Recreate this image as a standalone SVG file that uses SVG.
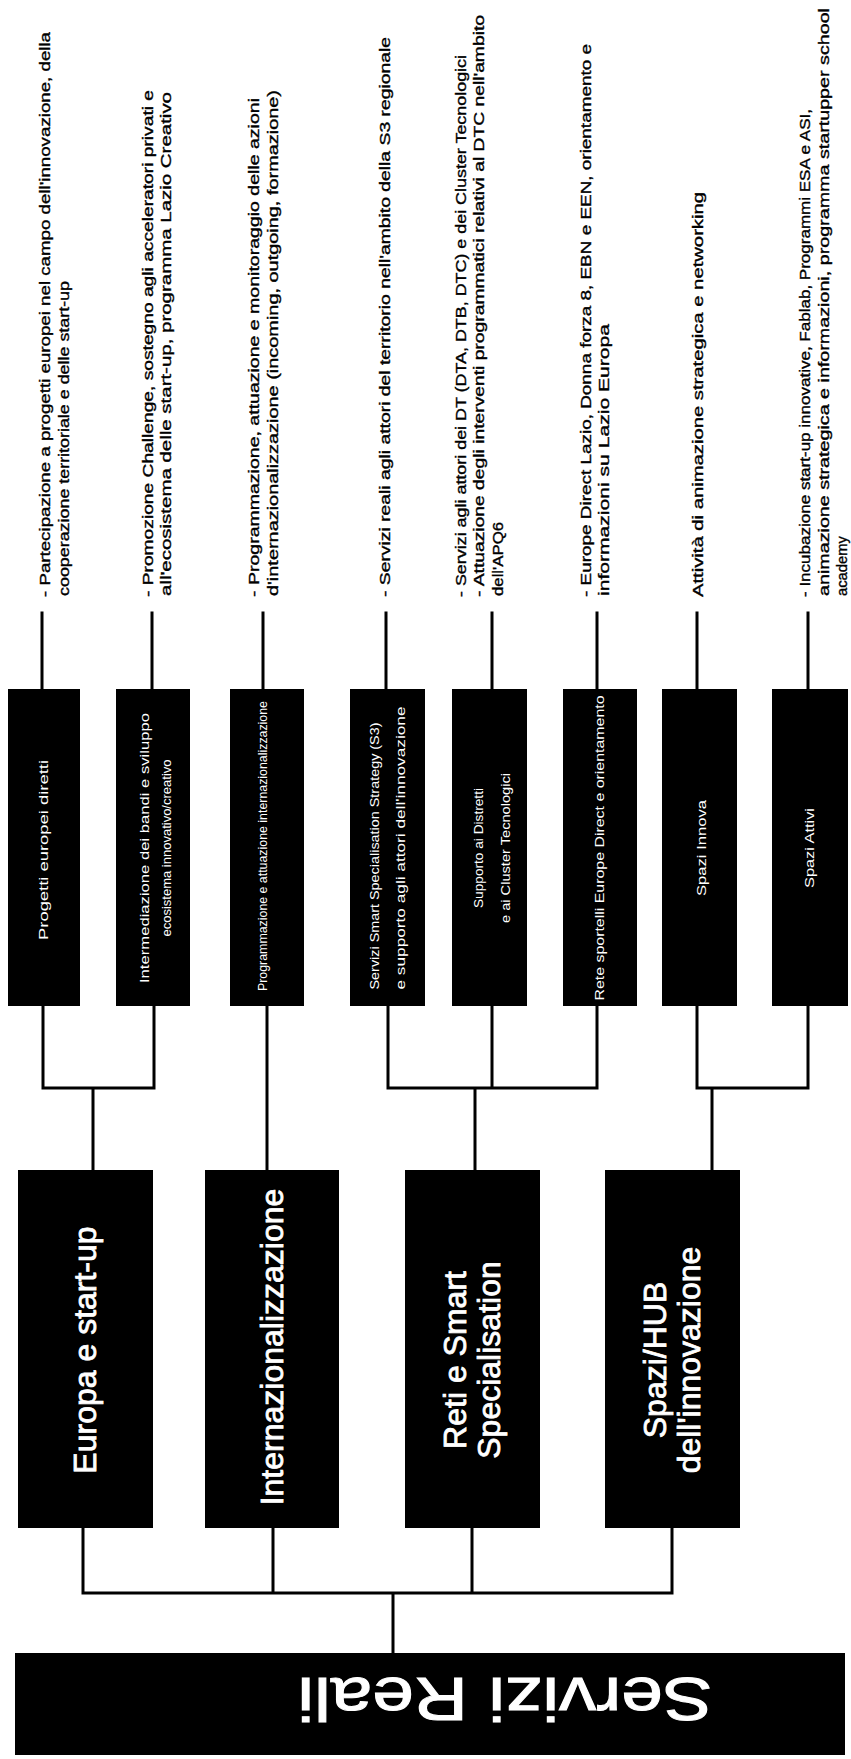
<svg xmlns="http://www.w3.org/2000/svg" width="851" height="1759" viewBox="0 0 851 1759">
<style>
.bg{fill:#fff}
.box{fill:#000}
.conn{stroke:#000;stroke-width:3;fill:none;stroke-linecap:square}
.desc{font-family:"Liberation Sans",Arial,sans-serif;font-size:15px;fill:#000;stroke:#000;stroke-width:0.35}
.l2{font-family:"Liberation Sans",Arial,sans-serif;font-size:12px;fill:#fff;text-anchor:middle}
.l1{font-family:"Liberation Sans",Arial,sans-serif;font-size:32px;fill:#fff;stroke:#fff;stroke-width:0.8;text-anchor:middle}
.root{font-family:"Liberation Sans",Arial,sans-serif;font-size:62px;fill:#fff;stroke:#fff;stroke-width:1;text-anchor:middle}
</style>
<rect class="bg" x="0" y="0" width="851" height="1759"/>
<g id="connectors">
<path class="conn" d="M393,1653 V1593 M83,1593 H672 M83,1593 V1528 M273,1593 V1528 M472,1593 V1528 M672,1593 V1528"/>
<path class="conn" d="M93,1170 V1088 M43,1088 H154 M43,1088 V1006 M154,1088 V1006"/>
<path class="conn" d="M267,1170 V1006"/>
<path class="conn" d="M475,1170 V1088 M388,1088 H597 M388,1088 V1006 M492,1088 V1006 M597,1088 V1006"/>
<path class="conn" d="M712,1170 V1088 M697,1088 H808 M697,1088 V1006 M808,1088 V1006"/>
<path class="conn" d="M42,613 V689 M152,613 V689 M263,613 V689 M386,613 V689 M492,613 V689 M597,613 V689 M697,613 V689 M808,613 V689"/>
</g>
<g id="root">
<rect class="box" x="15" y="1653" width="830" height="102"/>
<text class="root" transform="translate(505,1678) rotate(180)" x="0" y="0" textLength="415" lengthAdjust="spacingAndGlyphs">Servizi Reali</text>
</g>
<g id="europa">
<rect class="box" x="18" y="1170" width="135" height="358"/>
<text class="l1" transform="translate(96,1350) rotate(-90)" x="0" y="0">Europa e start-up</text>
</g>
<g id="internazionalizzazione">
<rect class="box" x="205" y="1170" width="134" height="358"/>
<text class="l1" transform="translate(283,1347) rotate(-90)" x="0" y="0">Internazionalizzazione</text>
</g>
<g id="reti">
<rect class="box" x="405" y="1170" width="135" height="358"/>
<text class="l1" transform="translate(466,1360) rotate(-90)" x="0" y="0">Reti e Smart</text>
<text class="l1" transform="translate(500,1360) rotate(-90)" x="0" y="0">Specialisation</text>
</g>
<g id="spazi">
<rect class="box" x="605" y="1170" width="135" height="358"/>
<text class="l1" transform="translate(666,1360) rotate(-90)" x="0" y="0">Spazi/HUB</text>
<text class="l1" transform="translate(700,1360) rotate(-90)" x="0" y="0">dell'innovazione</text>
</g>
<g id="n1">
<rect class="box" x="8" y="689" width="72" height="317"/>
<text class="l2" transform="translate(48,850) rotate(-90)" x="0" y="0" textLength="180" lengthAdjust="spacingAndGlyphs">Progetti europei diretti</text>
</g>
<g id="n2">
<rect class="box" x="116" y="689" width="74" height="317"/>
<text class="l2" transform="translate(149,848) rotate(-90)" x="0" y="0" textLength="270" lengthAdjust="spacingAndGlyphs">Intermediazione dei bandi e sviluppo</text>
<text class="l2" transform="translate(171,848) rotate(-90)" x="0" y="0" textLength="177" lengthAdjust="spacingAndGlyphs">ecosistema innovativo/creativo</text>
</g>
<g id="n3">
<rect class="box" x="230" y="689" width="74" height="317"/>
<text class="l2" transform="translate(267,846) rotate(-90)" x="0" y="0" textLength="290" lengthAdjust="spacingAndGlyphs">Programmazione e attuazione internazionalizzazione</text>
</g>
<g id="n4">
<rect class="box" x="350" y="689" width="75" height="317"/>
<text class="l2" transform="translate(379,856) rotate(-90)" x="0" y="0" textLength="267" lengthAdjust="spacingAndGlyphs">Servizi Smart Specialisation Strategy (S3)</text>
<text class="l2" transform="translate(405,848) rotate(-90)" x="0" y="0" textLength="283" lengthAdjust="spacingAndGlyphs">e supporto agli attori dell'innovazione</text>
</g>
<g id="n5">
<rect class="box" x="452" y="689" width="75" height="317"/>
<text class="l2" transform="translate(483,848) rotate(-90)" x="0" y="0" textLength="120" lengthAdjust="spacingAndGlyphs">Supporto ai Distretti</text>
<text class="l2" transform="translate(510,848) rotate(-90)" x="0" y="0" textLength="150" lengthAdjust="spacingAndGlyphs">e ai Cluster Tecnologici</text>
</g>
<g id="n6">
<rect class="box" x="563" y="689" width="74" height="317"/>
<text class="l2" transform="translate(604,848) rotate(-90)" x="0" y="0" textLength="305" lengthAdjust="spacingAndGlyphs">Rete sportelli Europe Direct e orientamento</text>
</g>
<g id="n7">
<rect class="box" x="662" y="689" width="75" height="317"/>
<text class="l2" transform="translate(706,848) rotate(-90)" x="0" y="0" textLength="96" lengthAdjust="spacingAndGlyphs">Spazi Innova</text>
</g>
<g id="n8">
<rect class="box" x="772" y="689" width="76" height="317"/>
<text class="l2" transform="translate(814,848) rotate(-90)" x="0" y="0" textLength="80" lengthAdjust="spacingAndGlyphs">Spazi Attivi</text>
</g>
<g id="d1">
<text class="desc" transform="translate(50,597) rotate(-90)" textLength="565" lengthAdjust="spacingAndGlyphs">- Partecipazione a progetti europei nel campo dell'innovazione, della</text>
<text class="desc" transform="translate(69,596) rotate(-90)" textLength="315" lengthAdjust="spacingAndGlyphs">cooperazione territoriale e delle start-up</text>
</g>
<g id="d2">
<text class="desc" transform="translate(153,597) rotate(-90)" textLength="507" lengthAdjust="spacingAndGlyphs">- Promozione Challenge, sostegno agli acceleratori privati e</text>
<text class="desc" transform="translate(171,596) rotate(-90)" textLength="504" lengthAdjust="spacingAndGlyphs">all'ecosistema delle start-up, programma Lazio Creativo</text>
</g>
<g id="d3">
<text class="desc" transform="translate(259,597) rotate(-90)" textLength="499" lengthAdjust="spacingAndGlyphs">- Programmazione, attuazione e monitoraggio delle azioni</text>
<text class="desc" transform="translate(278,596) rotate(-90)" textLength="506" lengthAdjust="spacingAndGlyphs">d'internazionalizzazione (incoming, outgoing, formazione)</text>
</g>
<g id="d4">
<text class="desc" transform="translate(390,597) rotate(-90)" textLength="560" lengthAdjust="spacingAndGlyphs">- Servizi reali agli attori del territorio nell'ambito della S3 regionale</text>
</g>
<g id="d5">
<text class="desc" transform="translate(466,597) rotate(-90)" textLength="542" lengthAdjust="spacingAndGlyphs">- Servizi agli attori dei DT (DTA, DTB, DTC) e dei Cluster Tecnologici</text>
<text class="desc" transform="translate(484,597) rotate(-90)" textLength="582" lengthAdjust="spacingAndGlyphs">- Attuazione degli interventi programmatici relativi al DTC nell'ambito</text>
<text class="desc" transform="translate(503,596) rotate(-90)" textLength="74" lengthAdjust="spacingAndGlyphs">dell'APQ6</text>
</g>
<g id="d6">
<text class="desc" transform="translate(591,597) rotate(-90)" textLength="553" lengthAdjust="spacingAndGlyphs">- Europe Direct Lazio, Donna forza 8, EBN e EEN, orientamento e</text>
<text class="desc" transform="translate(609,596) rotate(-90)" textLength="272" lengthAdjust="spacingAndGlyphs">informazioni su Lazio Europa</text>
</g>
<g id="d7">
<text class="desc" transform="translate(703,597) rotate(-90)" textLength="405" lengthAdjust="spacingAndGlyphs">Attività di animazione strategica e networking</text>
</g>
<g id="d8">
<text class="desc" transform="translate(810,597) rotate(-90)" textLength="488" lengthAdjust="spacingAndGlyphs">- Incubazione start-up innovative, Fablab, Programmi ESA e ASI,</text>
<text class="desc" transform="translate(829,596) rotate(-90)" textLength="588" lengthAdjust="spacingAndGlyphs">animazione strategica e informazioni, programma startupper school</text>
<text class="desc" transform="translate(847,596) rotate(-90)" textLength="60" lengthAdjust="spacingAndGlyphs">academy</text>
</g>
</svg>
